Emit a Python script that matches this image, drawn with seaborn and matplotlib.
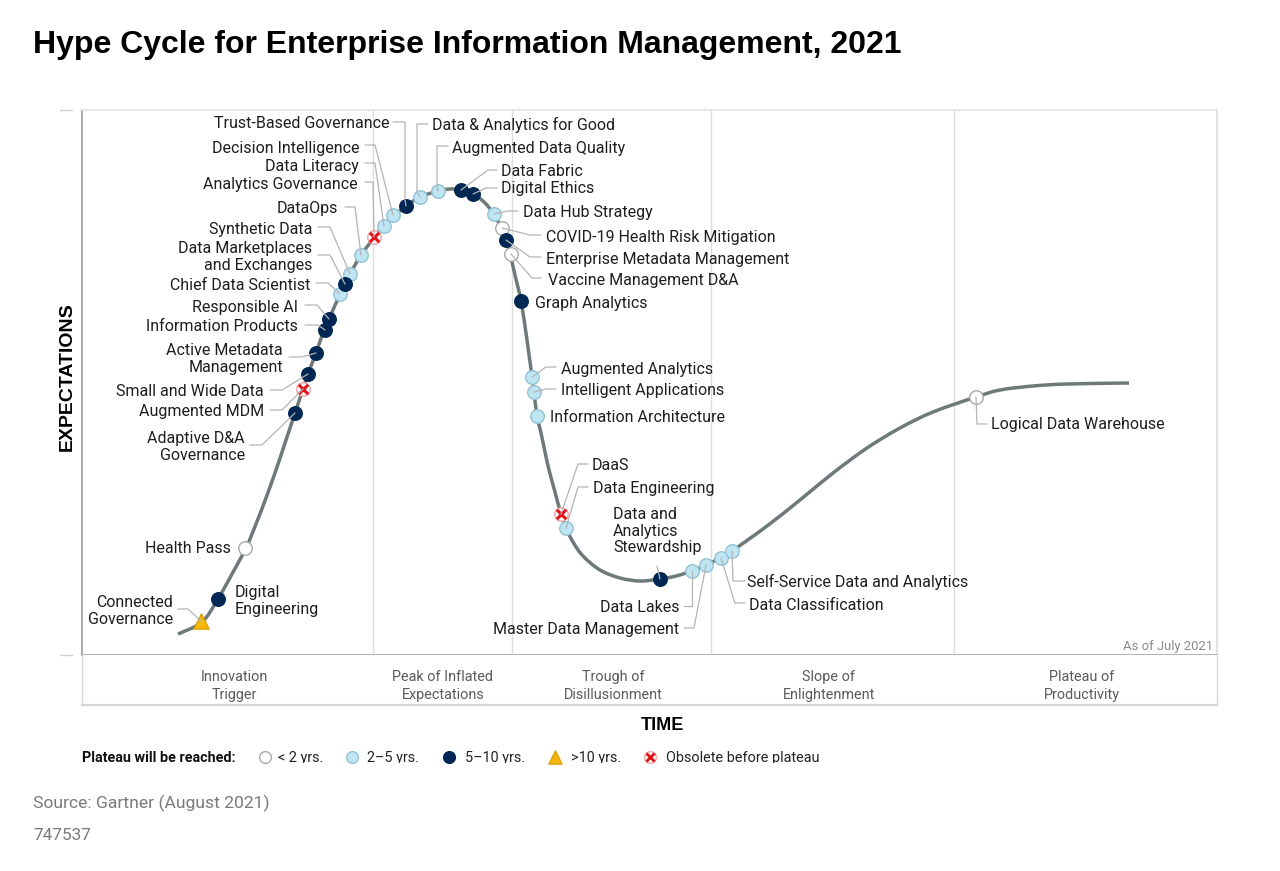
import numpy as np
import pandas as pd
import seaborn as sns
import matplotlib
matplotlib.use("Agg")
import matplotlib.pyplot as plt
from matplotlib.transforms import Bbox
from matplotlib.path import Path
from matplotlib.patches import PathPatch

# ---------------- data ----------------
TITLE = "Hype Cycle for Enterprise Information Management, 2021"

# hype curve (time, expectations)
curve_time = [96, 120, 136, 150, 164, 174, 184, 194, 204, 213, 221, 226, 234, 242, 247, 258, 263,
              268, 279, 292, 302, 312, 324, 338, 356, 368, 379, 391, 402, 412, 419, 424, 428,
              433, 439, 445, 450, 452, 455, 459, 463, 467, 473, 479, 484, 491, 501, 518, 538,
              558, 578, 594, 610, 624, 638, 650, 685, 718, 751, 785, 818, 851, 894, 918, 951,
              985, 1047]
curve_expect = [21, 33, 56, 81, 107, 131, 157, 185, 215, 242, 266, 281, 302, 325, 336, 361, 371,
                381, 400, 417, 430, 439, 449, 458, 464, 466, 465, 461, 453, 441, 427, 415, 401,
                380, 354, 315, 278, 263, 239, 222, 203, 185, 163, 141, 127, 113, 99, 85, 77,
                74, 76, 79, 84, 90, 97, 104, 129, 155, 182, 207, 227, 243, 258, 265, 269,
                271, 272]

tech_names = [
    "Connected\nGovernance", "Digital\nEngineering", "Health Pass", "Adaptive D&A\nGovernance",
    "Augmented MDM", "Small and Wide Data", "Active Metadata\nManagement", "Information Products",
    "Responsible AI", "Chief Data Scientist", "Data Marketplaces\nand Exchanges", "Synthetic Data",
    "DataOps", "Analytics Governance", "Data Literacy", "Decision Intelligence",
    "Trust-Based Governance", "Data & Analytics for Good", "Augmented Data Quality", "Data Fabric",
    "Digital Ethics", "Data Hub Strategy", "COVID-19 Health Risk Mitigation",
    "Enterprise Metadata Management", "Vaccine Management D&A", "Graph Analytics",
    "Augmented Analytics", "Intelligent Applications", "Information Architecture", "DaaS",
    "Data Engineering", "Data and\nAnalytics\nStewardship", "Data Lakes", "Master Data Management",
    "Data Classification", "Self-Service Data and Analytics", "Logical Data Warehouse",
]
tech_time = [119, 136, 163, 213, 221, 226, 234, 243, 247, 258, 263, 268, 279, 292, 302, 311,
             324, 338, 356, 379, 391, 412, 420, 424, 429, 439, 450, 452, 455, 479, 484, 578,
             610, 624, 639, 650, 894]
tech_expect = [34, 56, 107, 242, 266, 281, 302, 325, 336, 361, 371, 381, 400, 418, 429, 440,
               449, 458, 464, 465, 461, 441, 427, 415, 401, 354, 278, 263, 239, 141, 127, 76,
               84, 90, 97, 104, 258]
tech_plateau = [">10", "5-10", "<2", "5-10", "obs", "5-10", "5-10", "5-10", "5-10", "2-5",
                "5-10", "2-5", "2-5", "obs", "2-5", "2-5", "5-10", "2-5", "2-5", "5-10",
                "5-10", "2-5", "<2", "5-10", "<2", "5-10", "2-5", "2-5", "2-5", "obs",
                "2-5", "5-10", "2-5", "2-5", "2-5", "2-5", "<2"]

phase_labels = ["Innovation\nTrigger", "Peak of Inflated\nExpectations", "Trough of\nDisillusionment",
                "Slope of\nEnlightenment", "Plateau of\nProductivity"]
phase_bounds = [291, 430, 629, 872]
legend_title = "Plateau will be reached:"
legend_keys = ["<2", "2-5", "5-10", ">10", "obs"]
legend_labels = ["< 2 yrs.", "2\u20135 yrs.", "5\u201310 yrs.", ">10 yrs.", "Obsolete before plateau"]

# ---------------- layout (pixels) ----------------
W, H = 1280, 871
X0, X1, Y0, Y1 = 82, 1217, 110, 655
PHASE_CENTERS = [152, 361, 531, 747, 1000]

# label: (x, y, ha, leader points before the marker)
LAYOUT = {
    "Connected\nGovernance": (173, 611, "right", [(178, 609), (188, 609)]),
    "Digital\nEngineering": (235, 601, "left", []),
    "Health Pass": (231, 548, "right", []),
    "Adaptive D&A\nGovernance": (245, 447, "right", [(250, 445), (262, 445)]),
    "Augmented MDM": (264, 411, "right", [(270, 410), (282, 410)]),
    "Small and Wide Data": (264, 391, "right", [(270, 390), (282, 390)]),
    "Active Metadata\nManagement": (283, 359, "right", [(289, 357), (302, 357)]),
    "Information Products": (298, 326, "right", [(305, 325), (318, 325)]),
    "Responsible AI": (298, 307, "right", [(305, 305), (317, 305)]),
    "Chief Data Scientist": (310, 285, "right", [(316, 283), (328, 283)]),
    "Data Marketplaces\nand Exchanges": (312, 257, "right", [(318, 255), (330, 255)]),
    "Synthetic Data": (312, 229, "right", [(318, 227), (330, 227)]),
    "DataOps": (338, 208, "right", [(345, 207), (355, 207)]),
    "Analytics Governance": (358, 185, "right", [(365, 182), (373, 182)]),
    "Data Literacy": (359, 166, "right", [(365, 163), (375, 163)]),
    "Decision Intelligence": (360, 148, "right", [(365, 145), (375, 145)]),
    "Trust-Based Governance": (389, 124, "right", [(393, 122), (405, 122), (405, 200)]),
    "Data & Analytics for Good": (432, 125, "left", [(428, 124), (417, 124), (417, 192)]),
    "Augmented Data Quality": (452, 148, "left", [(448, 146), (437, 146), (437, 186)]),
    "Data Fabric": (501, 171, "left", [(497, 170), (488, 170)]),
    "Digital Ethics": (501, 189, "left", [(497, 188), (486, 188)]),
    "Data Hub Strategy": (523, 212, "left", [(518, 211), (508, 211)]),
    "COVID-19 Health Risk Mitigation": (546, 237, "left", [(541, 235), (530, 235)]),
    "Enterprise Metadata Management": (546, 259, "left", [(541, 257), (530, 257)]),
    "Vaccine Management D&A": (548, 280, "left", [(541, 278), (532, 278)]),
    "Graph Analytics": (535, 303, "left", []),
    "Augmented Analytics": (561, 369, "left", [(556, 367), (546, 367)]),
    "Intelligent Applications": (561, 390, "left", [(556, 389), (546, 389)]),
    "Information Architecture": (550, 417, "left", []),
    "DaaS": (592, 465, "left", [(588, 464), (578, 464)]),
    "Data Engineering": (593, 488, "left", [(588, 487), (578, 487)]),
    "Data and\nAnalytics\nStewardship": (613, 531, "left", [(657, 566)]),
    "Data Lakes": (679, 607, "right", [(684, 606), (692, 606)]),
    "Master Data Management": (679, 629, "right", [(684, 628), (694, 628)]),
    "Data Classification": (749, 605, "left", [(745, 603), (735, 603)]),
    "Self-Service Data and Analytics": (747, 582, "left", [(745, 581), (733, 581)]),
    "Logical Data Warehouse": (991, 424, "left", [(987, 424), (977, 424)]),
}

STYLE = {
    "<2": dict(marker="o", s=95, color="#ffffff", edgecolor="#a9a9a9"),
    "2-5": dict(marker="o", s=95, color="#bfe4f2", edgecolor="#93c3d6"),
    "5-10": dict(marker="o", s=95, color="#002754", edgecolor="#002754"),
    ">10": dict(marker="^", s=120, color="#f6b60c", edgecolor="#dea200"),
    "obs": dict(marker="o", s=95, color="#ffffff", edgecolor="#f3a3a3"),
}
XRED = "#e3131b"
LABEL_FS = 11.5

sns.set_theme(style="white")
plt.rcParams["font.family"] = ["Roboto", "DejaVu Sans"]

fig = plt.figure(figsize=(W / 100, H / 100), dpi=100)
fig.patch.set_facecolor("white")

ax = fig.add_axes([X0 / W, 1 - Y1 / H, (X1 - X0) / W, (Y1 - Y0) / H])
ax.set_xlim(0, X1 - X0)
ax.set_ylim(0, Y1 - Y0)
for side, col in [("left", "#9b9b9b"), ("top", "#e2e2e2"), ("right", "#dedede"), ("bottom", "#a5a5a5")]:
    ax.spines[side].set_visible(True)
    ax.spines[side].set_color(col)
    ax.spines[side].set_linewidth(1.2)

for b in phase_bounds:
    ax.axvline(b, color="#dddddd", lw=1, zorder=0)

# smooth curve through the read knots (Catmull-Rom drawn as cubic Bezier segments)
df_curve = pd.DataFrame({"time": curve_time, "expect": curve_expect})
pts = df_curve[["time", "expect"]].to_numpy(dtype=float)
verts = [tuple(pts[0])]
codes = [Path.MOVETO]
n = len(pts)
for i in range(n - 1):
    p0 = pts[max(i - 1, 0)]
    p1 = pts[i]
    p2 = pts[i + 1]
    p3 = pts[min(i + 2, n - 1)]
    c1 = p1 + (p2 - p0) / 6.0
    c2 = p2 - (p3 - p1) / 6.0
    verts += [tuple(c1), tuple(c2), tuple(p2)]
    codes += [Path.CURVE4] * 3
ax.add_patch(PathPatch(Path(verts, codes), facecolor="none", edgecolor="#6d7a79", lw=2.5,
                       zorder=2, capstyle="butt", joinstyle="round"))

df = pd.DataFrame({"name": tech_names, "time": tech_time, "expect": tech_expect, "plateau": tech_plateau})
for key, st in STYLE.items():
    sub = df[df.plateau == key]
    sns.scatterplot(data=sub, x="time", y="expect", marker=st["marker"], s=st["s"],
                    color=st["color"], edgecolor=st["edgecolor"], linewidth=1.0,
                    ax=ax, zorder=5, legend=False)
sub = df[df.plateau == "obs"]
sns.scatterplot(data=sub, x="time", y="expect", marker="x", s=45, color=XRED,
                linewidth=2.2, ax=ax, zorder=6, legend=False)
ax.set_xlim(0, X1 - X0)
ax.set_ylim(0, Y1 - Y0)
ax.set_xticks([])
ax.set_yticks([])
ax.set_xlabel("")
ax.set_ylabel("")

ax.text(1213 - X0, Y1 - 646, "As of July 2021", ha="right", va="center", fontsize=9.4, color="#8a8a8a")

# phase band
bx = fig.add_axes([X0 / W, 1 - 705 / H, (X1 - X0) / W, 50 / H])
bx.set_xlim(0, X1 - X0)
bx.set_ylim(0, 50)
bx.set_xticks([])
bx.set_yticks([])
for side in ["left", "right", "bottom", "top"]:
    bx.spines[side].set_color("#d6d6d6")
    bx.spines[side].set_linewidth(1.6 if side == "bottom" else 1.0)
bx.spines["top"].set_visible(False)
for c, lab in zip(PHASE_CENTERS, phase_labels):
    bx.text(c, 18.8, lab, ha="center", va="center", fontsize=10.4, color="#5a5a5a",
            linespacing=1.35)

# overlay in pixel coordinates for annotations
ov = fig.add_axes([0, 0, 1, 1], facecolor="none")
ov.set_xlim(0, W)
ov.set_ylim(H, 0)
ov.axis("off")

for name, t, e in zip(tech_names, tech_time, tech_expect):
    tx, ty, ha, lpts = LAYOUT[name]
    px, py = t + X0, Y1 - e
    if lpts:
        xs = [p[0] for p in lpts] + [px]
        ys = [p[1] for p in lpts] + [py]
        ov.plot(xs, ys, color="#b4b4b4", lw=0.9, zorder=1)
    ov.text(tx, ty, name, ha=ha, va="center", fontsize=LABEL_FS, color="#1e1e1e",
            multialignment=ha, linespacing=1.15)

# left small ticks
ov.plot([60, 72], [110, 110], color="#d0d0d0", lw=1)
ov.plot([60, 72], [655, 655], color="#d0d0d0", lw=1)

ov.text(33, 45, TITLE, ha="left", va="center", fontsize=23, fontweight="bold",
        family=["Liberation Sans", "DejaVu Sans"], color="black")
ov.text(67, 377, "EXPECTATIONS", rotation=90, ha="center", va="center", fontsize=14,
        fontweight="bold", family=["Liberation Sans", "DejaVu Sans"], color="black")
ov.text(662, 725, "TIME", ha="center", va="center", fontsize=13, fontweight="bold",
        family=["Liberation Sans", "DejaVu Sans"], color="black")

# legend row
clip = Bbox.from_extents(0, H - 763, W, H)
lt = ov.text(82, 758, legend_title, ha="left", va="center", fontsize=10.4, fontweight="bold",
             color="#111111")
lt.set_clip_box(clip)
lt.set_clip_on(True)
leg_mx = [265, 352, 449, 555, 650]
leg_tx = [278, 367, 465, 571, 666]
for key, lab, mx, txx in zip(legend_keys, legend_labels, leg_mx, leg_tx):
    st = STYLE[key]
    size = st["s"] * 0.75
    ov.scatter([mx], [757], marker=st["marker"], s=size, c=st["color"],
               edgecolors=st["edgecolor"], linewidths=1.0, zorder=3)
    if key == "obs":
        ov.scatter([mx], [757], marker="x", s=35, c=XRED, linewidths=2.0, zorder=4)
    tt = ov.text(txx, 758, lab, ha="left", va="center", fontsize=10.4, color="#222222")
    tt.set_clip_box(clip)
    tt.set_clip_on(True)

ov.text(33, 803, "Source: Gartner (August 2021)", ha="left", va="center", fontsize=12.6,
        color="#7a7a7a")
ov.text(33, 835, "747537", ha="left", va="center", fontsize=12.4, color="#7a7a7a")

fig.savefig("out.png", dpi=100, facecolor="white")
